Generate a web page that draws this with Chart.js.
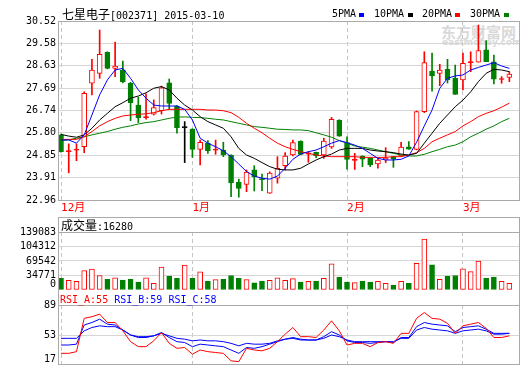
<!DOCTYPE html>
<html>
<head>
<meta charset="utf-8">
<script src="https://cdn.jsdelivr.net/npm/chart.js@4.4.1/dist/chart.umd.min.js"></script>
<style>
body{margin:0;background:#fff}
#wrap{position:relative;width:520px;height:365px;overflow:hidden;font-family:"DejaVu Sans Mono",monospace;font-size:10px;color:#000}
canvas{position:absolute;left:0}
.t{position:absolute;white-space:nowrap;line-height:12px}
.cjk{font-family:"Noto Sans CJK SC";font-size:12px}
.box{position:absolute;border:1px solid #aaa;box-sizing:border-box}
.hl{position:absolute;left:58px;width:462px;height:1px;background:#aaa}
.mk{position:absolute;width:5px;height:4px;top:13px}
.wm{position:absolute;white-space:nowrap;color:#d9d9d9;font-weight:bold}
</style>
</head>
<body>
<div id="wrap">
  <div class="wm" style="left:441px;top:21px;font-size:15px;font-family:'Noto Sans CJK SC'">东方财富网</div>
  <div class="wm" style="left:442px;top:37px;font-size:9px;font-family:'DejaVu Sans'">eastmoney.com</div>

  <canvas id="cMain" width="520" height="217" style="top:0"></canvas>
  <canvas id="cVol" width="520" height="83" style="top:217px"></canvas>
  <canvas id="cRsi" width="520" height="75" style="top:290px"></canvas>

  <div class="box" style="left:58px;top:21px;width:462px;height:180px"></div>
  <div class="box" style="left:58px;top:217px;width:462px;height:148px"></div>
  <div class="hl" style="top:232px"></div>
  <div class="hl" style="top:305px"></div>

  <div class="t" style="left:62px;top:8px"><span class="cjk">七星电子</span>[002371] 2015-03-10</div>
  <div class="t" style="left:332px;top:8px">5PMA</div><div class="mk" style="left:359px;background:#00f"></div>
  <div class="t" style="left:374px;top:8px">10PMA</div><div class="mk" style="left:408px;background:#000"></div>
  <div class="t" style="left:422px;top:8px">20PMA</div><div class="mk" style="left:455px;background:#f00"></div>
  <div class="t" style="left:470px;top:8px">30PMA</div><div class="mk" style="left:504px;background:#008000"></div>

  <div class="t" style="left:61px;top:219px"><span class="cjk">成交量</span>:16280</div>
  <div class="t" style="left:60px;top:294px"><span style="color:#f00">RSI_A:55</span> <span style="color:#00f">RSI_B:59</span> <span style="color:#00f">RSI_C:58</span></div>
</div>
<script>
/* ------------ data ------------ */
const DAYS = [
  '2014-12-09','2014-12-10','2014-12-11','2014-12-12','2014-12-15','2014-12-16','2014-12-17','2014-12-18','2014-12-19',
  '2014-12-22','2014-12-23','2014-12-24','2014-12-25','2014-12-26','2014-12-29','2014-12-30','2014-12-31',
  '2015-01-05','2015-01-06','2015-01-07','2015-01-08','2015-01-09','2015-01-12','2015-01-13','2015-01-14','2015-01-15','2015-01-16',
  '2015-01-19','2015-01-20','2015-01-21','2015-01-22','2015-01-23','2015-01-26','2015-01-27','2015-01-28','2015-01-29','2015-01-30',
  '2015-02-02','2015-02-03','2015-02-04','2015-02-05','2015-02-06','2015-02-09','2015-02-10','2015-02-11','2015-02-12','2015-02-13',
  '2015-02-16','2015-02-17','2015-02-25','2015-02-26','2015-02-27',
  '2015-03-02','2015-03-03','2015-03-04','2015-03-05','2015-03-06','2015-03-09','2015-03-10'
];
const OPEN  = [25.71,25.00,25.06,25.21,27.89,28.31,29.20,28.52,28.45,27.89,26.97,26.44,26.58,26.73,27.91,26.93,26.02,25.96,25.10,25.36,
               25.06,25.07,24.86,23.71,23.62,24.23,23.85,23.25,23.88,24.41,24.86,25.45,24.90,24.97,24.86,25.20,26.34,25.38,24.63,24.82,
               24.72,24.48,24.65,24.79,24.82,25.21,25.10,26.69,28.41,28.31,28.48,28.10,28.03,28.76,28.78,29.30,28.80,28.05,28.14];
const HIGH  = [25.74,25.33,25.33,27.53,28.90,30.14,29.22,29.63,28.83,27.93,27.30,27.44,27.19,27.77,28.07,26.95,26.27,25.97,25.49,25.47,
               25.49,25.40,24.87,23.84,24.23,24.41,24.06,24.15,24.79,24.96,25.49,25.46,25.00,24.98,25.57,26.45,26.35,25.63,24.93,24.83,
               24.73,24.72,25.17,24.80,25.40,25.43,26.72,29.22,29.16,28.69,28.90,28.66,29.16,29.22,30.35,29.69,29.08,28.17,28.38];
const LOW   = [24.98,24.11,24.62,24.96,27.40,28.10,28.50,28.17,27.90,26.31,26.23,26.37,26.55,26.59,26.79,25.78,24.54,24.76,24.44,24.93,
               24.89,24.79,23.10,23.08,23.31,23.34,23.35,23.24,23.67,24.23,24.82,24.87,24.55,24.75,24.72,25.14,25.65,24.26,24.25,24.37,
               24.37,24.30,24.54,24.34,24.79,25.10,25.08,26.65,27.56,27.79,27.90,27.42,27.61,28.38,28.78,28.80,27.86,27.89,27.96];
const CLOSE = [25.00,25.01,25.07,27.47,28.45,29.11,28.52,28.62,27.96,27.07,26.44,26.46,26.86,27.70,27.04,26.02,26.02,25.10,25.40,25.04,
               25.07,24.86,23.69,23.45,24.14,23.94,23.82,24.10,24.30,24.82,25.38,24.89,24.95,24.82,25.45,26.37,25.66,24.67,24.68,24.68,
               24.44,24.65,24.72,24.68,25.20,25.11,26.69,28.76,28.20,28.45,28.03,27.42,28.73,28.79,29.27,28.80,28.06,28.08,28.28];
const MA5   = [25.49,25.50,25.36,25.71,26.55,27.40,28.03,28.45,28.52,28.10,27.61,27.26,26.97,26.93,26.93,26.93,26.79,26.34,25.57,25.36,
               25.21,25.04,24.79,24.48,24.16,23.97,23.88,23.84,23.97,24.30,24.68,24.90,25.00,25.07,25.21,25.36,25.47,25.38,25.28,25.14,
               24.93,24.72,24.65,24.65,24.68,24.82,25.40,26.09,26.76,27.68,28.10,28.20,28.24,28.45,28.56,28.66,28.76,28.62,28.52];
const MA10  = [25.73,25.66,25.61,25.71,25.99,26.34,26.62,26.90,27.07,27.26,27.35,27.49,27.68,27.75,27.61,27.26,26.97,26.76,26.48,26.27,
               26.13,25.99,25.63,25.14,24.86,24.72,24.54,24.37,24.26,24.23,24.23,24.30,24.48,24.65,24.79,24.90,25.07,25.14,25.14,25.14,
               25.07,25.03,25.00,24.96,24.90,24.86,24.93,25.36,25.78,26.20,26.55,26.90,27.18,27.53,27.96,28.31,28.48,28.45,28.38];
const MA20  = [25.52,25.52,25.52,25.63,25.85,26.09,26.27,26.41,26.51,26.55,26.58,26.60,26.65,26.73,26.79,26.79,26.79,26.79,26.79,26.76,
               26.76,26.73,26.65,26.45,26.20,25.99,25.80,25.57,25.36,25.21,25.10,25.00,24.93,24.86,24.82,24.79,24.79,24.79,24.79,24.76,
               24.76,24.76,24.76,24.79,24.79,24.86,24.96,25.14,25.42,25.57,25.71,25.85,26.09,26.27,26.48,26.62,26.73,26.88,27.05];
const MA30  = [25.47,25.50,25.57,25.63,25.71,25.78,25.85,25.95,26.03,26.09,26.17,26.23,26.27,26.34,26.41,26.46,26.47,26.45,26.44,26.41,
               26.37,26.34,26.27,26.20,26.13,26.06,26.03,25.99,25.95,25.94,25.92,25.92,25.89,25.80,25.71,25.61,25.47,25.36,25.24,25.19,
               25.14,25.07,25.00,24.93,24.86,24.82,24.82,24.89,25.00,25.10,25.21,25.28,25.42,25.63,25.78,25.95,26.09,26.27,26.41];
const VOLUME = [27800,23200,20900,46400,50300,34800,25500,29400,23900,25500,19200,29400,16200,54900,33200,27800,59500,27800,43300,20900,
                24700,25500,34800,27800,24700,17000,21600,23200,29400,23200,27100,19200,20900,21600,27800,62600,30900,19200,17800,21600,
                19200,20900,16200,11600,20900,16200,64200,122100,60300,25500,33200,34800,51000,44000,69500,27800,30900,20900,16280];
const RSI_A = [31,31,33,73,75,78,68,68,58,45,39,39,46,56,43,37,38,30,35,33,32,31,22,21,37,35,34,37,45,54,
               62,51,51,50,59,70,58,41,43,43,39,44,45,43,55,55,73,80,73,72,67,55,64,66,68,61,50,50,52];
const RSI_B = [41,41,42,65,68,72,66,65,59,53,50,50,52,56,50,45,44,39,42,41,40,39,35,31,38,37,39,42,45,48,
               50,48,47,47,51,57,53,46,44,44,43,44,45,44,50,50,63,68,66,65,64,57,62,63,64,60,55,55,55];
const RSI_C = [49,49,49,58,62,64,63,63,59,53,51,51,52,55,52,49,48,46,47,46,46,45,43,40,43,42,42,43,46,48,
               49,47,47,47,49,53,51,47,45,45,45,45,45,45,49,49,59,62,60,59,58,55,58,59,60,58,54,54,55];

const PRICE_TICKS = [22.96,23.91,24.85,25.80,26.74,27.69,28.63,29.58,30.52];
const VOL_TICKS   = [0,34771,69542,104312,139083];
const RSI_TICKS   = [17,53,89];

/* ------------ helpers ------------ */
const RED='#ff0000', GREEN='#008000', BLUE='#0000ff', BLACK='#000000';
const GRID='#d6d6d6', DASH='#c4c4c4';
const NUM_FONT={family:'"DejaVu Sans Mono", monospace', size:10};
const pts = arr => arr.map((v,i)=>({x:i,y:v}));

const MONTH_TICKS = DAYS.map((d,i)=>({i, m:+d.slice(5,7)}))
  .filter((t,i,a)=> i===0 || t.m!==a[i-1].m)
  .map(t=>({i:t.i, label:t.m+'月'}));

function candleColor(i){
  if(i===undefined) return RED;
  if(CLOSE[i]>OPEN[i]) return RED;
  if(CLOSE[i]<OPEN[i]) return GREEN;
  return (i>0 && CLOSE[i]===CLOSE[i-1]) ? BLACK : RED;
}
function bodyFill(i){
  if(i===undefined) return '#fff';
  const c=candleColor(i);
  return (c===RED && Math.abs(CLOSE[i]-OPEN[i])>0.06) ? '#fff' : c;
}
const volUp = i => i===undefined || CLOSE[i]>=OPEN[i];
const noPad = s => { s.paddingTop=0; s.paddingBottom=0; s.paddingLeft=0; s.paddingRight=0; };

function xScale(showLabels){
  return {
    type:'linear', min:-0.26, max:59.25, offset:false,
    afterBuildTicks: s => { s.ticks = MONTH_TICKS.map(t=>({value:t.i})); },
    afterFit: s => { s.height = showLabels ? 17 : 0; noPad(s); },
    grid:{color:DASH, drawTicks:false, offset:false},
    border:{display:false, dash:[4,3]},
    ticks:{display:showLabels, autoSkip:false, maxRotation:0, minRotation:0, align:'start', padding:2,
           color:RED, font:{family:'"DejaVu Sans Mono", "Noto Sans CJK SC", monospace', size:11},
           callback: v => { const t=MONTH_TICKS.find(m=>m.i===v); return t ? t.label : ''; }}
  };
}
function yScale(min,max,ticks,fmt){
  return {
    type:'linear', min, max,
    afterBuildTicks: s => { s.ticks = ticks.map(v=>({value:v})); },
    afterFit: s => { s.width = 59; noPad(s); },
    grid:{color: c => (c.tick && c.tick.value===0) ? 'rgba(0,0,0,0)' : GRID, drawTicks:false},
    border:{display:false},
    ticks:{padding:3, color:'#000', font:NUM_FONT, autoSkip:false, callback:fmt}
  };
}
const baseOpts = (pad, x, y) => ({
  responsive:false, animation:false, devicePixelRatio:1, events:[],
  layout:{padding:pad},
  plugins:{legend:{display:false}, tooltip:{enabled:false}},
  scales:{x, y}
});
const line = (arr,color) => ({type:'line', data:pts(arr), borderColor:color, borderWidth:1,
  pointRadius:0, tension:0, fill:false});

/* ------------ price panel ------------ */
new Chart(document.getElementById('cMain'),{
  type:'bar',
  data:{datasets:[
    line(MA5,BLUE), line(MA10,BLACK), line(MA20,RED), line(MA30,GREEN),
    {type:'bar', data:OPEN.map((o,i)=>({x:i,y:[o,CLOSE[i]]})), grouped:false, barThickness:5, minBarLength:1,
     borderWidth:1, borderSkipped:false, borderColor:c=>candleColor(c.dataIndex), backgroundColor:c=>bodyFill(c.dataIndex)},
    {type:'bar', data:LOW.map((l,i)=>({x:i,y:[l,HIGH[i]]})), grouped:false, barThickness:1,
     borderWidth:0, backgroundColor:c=>candleColor(c.dataIndex)}
  ]},
  options: baseOpts({top:21,right:1,left:0,bottom:0}, xScale(true),
    yScale(22.96,30.52,PRICE_TICKS,v=>v.toFixed(2)))
});

/* ------------ volume panel ------------ */
new Chart(document.getElementById('cVol'),{
  type:'bar',
  data:{datasets:[
    {data:pts(VOLUME), grouped:false, barThickness:5, borderWidth:1, borderSkipped:false,
     borderColor:c=>volUp(c.dataIndex)?RED:GREEN, backgroundColor:c=>volUp(c.dataIndex)?'#fff':GREEN}
  ]},
  options: baseOpts({top:15,right:1,left:0,bottom:10}, xScale(false),
    yScale(0,139083,VOL_TICKS,v=> v===0 ? ['0',''] : String(v)))
});

/* ------------ RSI panel ------------ */
new Chart(document.getElementById('cRsi'),{
  type:'line',
  data:{datasets:[ line(RSI_A,RED), line(RSI_B,BLUE), line(RSI_C,BLUE) ]},
  options: baseOpts({top:15,right:1,left:0,bottom:0}, xScale(false),
    yScale(17,89,RSI_TICKS,v=> v===17 ? ['17',''] : String(v)))
});
</script>
</body>
</html>
